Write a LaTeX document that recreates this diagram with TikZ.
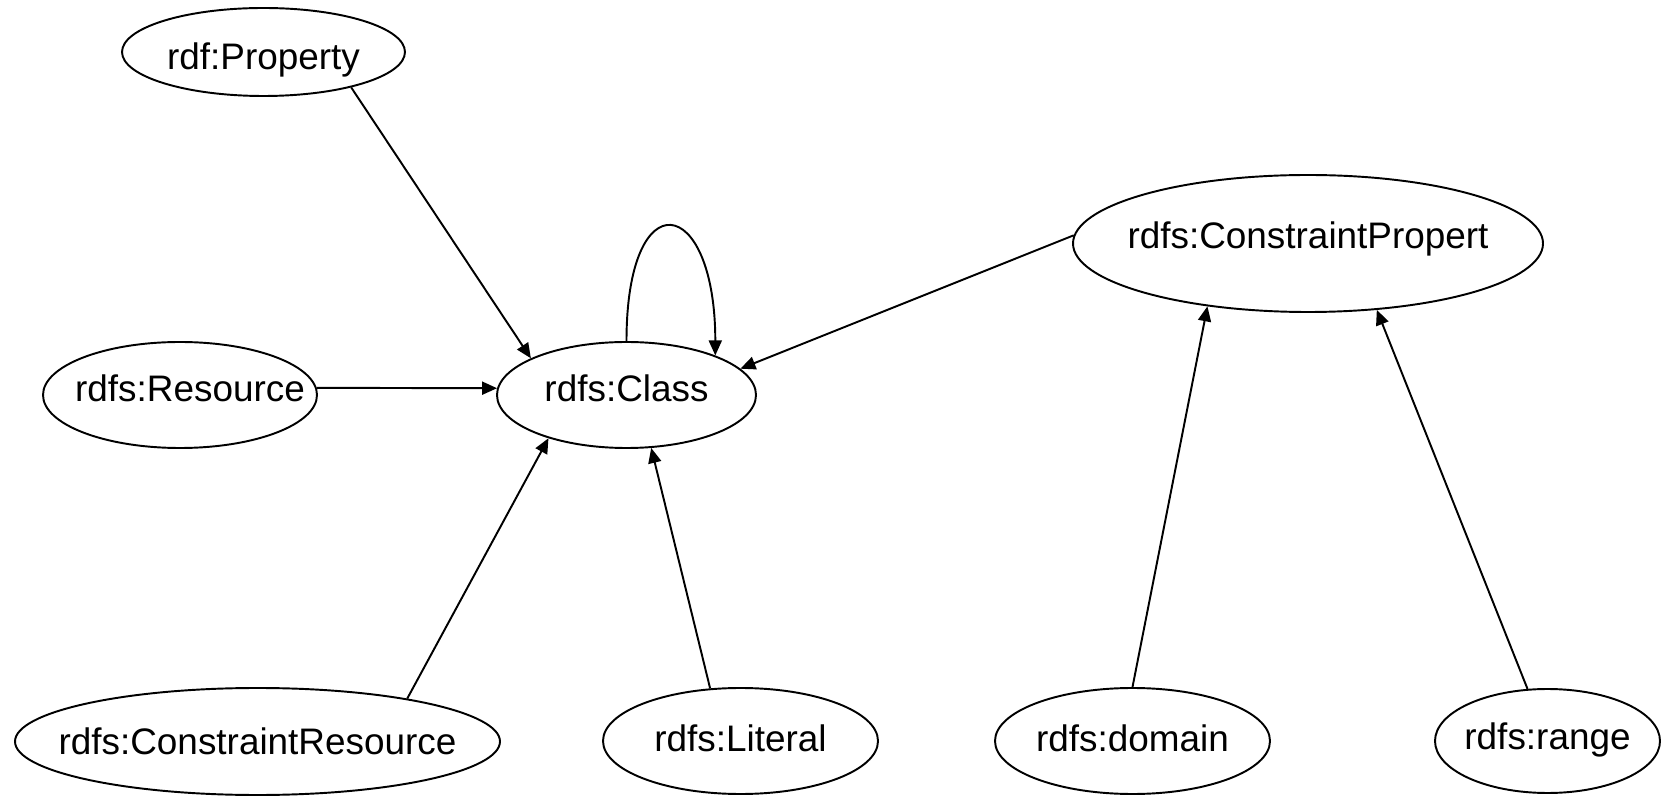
\documentclass[tikz,border=0pt]{standalone}
\usepackage{fontspec}
\setmainfont{Liberation Sans}
\usetikzlibrary{shapes.geometric,arrows.meta}

% text of zero size, baseline set by hand
\newcommand{\elabel}[2][-0.14cm]{\makebox[0pt]{\raisebox{#1}[0pt][0pt]{#2}}}

\begin{document}
\begin{tikzpicture}[
    >={Triangle[length=3mm,width=2.6mm]},
    line width=1.1pt,
    classnode/.style={draw, ellipse, inner sep=0pt, minimum width=5.5cm, minimum height=2.12cm, font=\fontsize{21pt}{25pt}\selectfont},
]
\useasboundingbox (0,0) rectangle (33.22,15.9);

\node[classnode, minimum width=5.66cm, minimum height=1.76cm] (property) at (5.27,14.86) {\elabel[-0.36cm]{rdf:Property}};
\node[classnode, minimum width=5.48cm] (resource) at (3.60,8.00) {\elabel{\hspace{0.4cm}rdfs:Resource}};
\node[classnode, minimum width=5.18cm] (class) at (12.53,8.00) {\elabel{rdfs:Class}};
\node[classnode, minimum width=9.40cm, minimum height=2.74cm] (constrprop) at (26.16,11.03) {\elabel[-0.11cm]{rdfs:ConstraintPropert}};

\node[classnode, minimum width=9.70cm, minimum height=2.14cm] (constrres) at (5.15,1.07) {\elabel[-0.26cm]{rdfs:ConstraintResource}};
\node[classnode] (literal) at (14.81,1.08) {\elabel[-0.21cm]{rdfs:Literal}};
\node[classnode] (domain) at (22.65,1.08) {\elabel[-0.21cm]{rdfs:domain}};
\node[classnode, minimum width=4.50cm, minimum height=2.08cm] (range) at (30.95,1.08) {\elabel[-0.17cm]{rdfs:range}};

\draw[->] (property.-22) -- (class.159);
\draw[->] (resource.3) -- (class.177);
\draw[->] (constrres.16) -- (class.-151);
\draw[->] (literal.120) -- (class.-65);
\draw[->] (constrprop.178) -- (class.13);
\draw[->] (domain.north) -- (constrprop.-148);
\draw[->] (range.111) -- (constrprop.-44);

\draw[->] (class.90) .. controls +(0,3.24) and +(0,3.24) .. (class.24);

\end{tikzpicture}
\end{document}
